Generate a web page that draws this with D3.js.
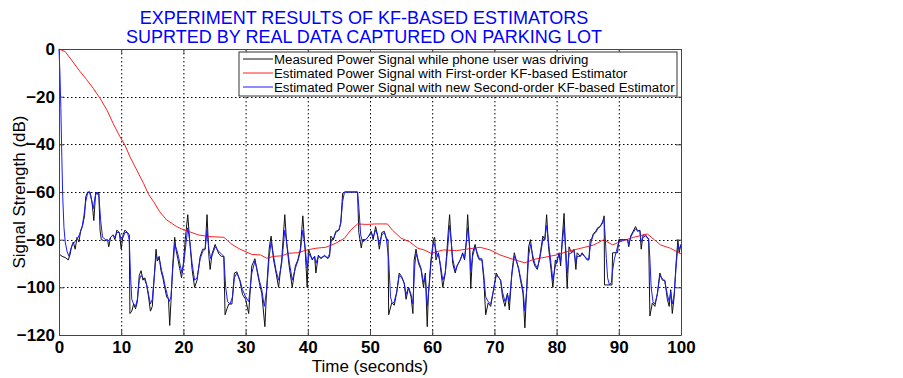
<!DOCTYPE html>
<html>
<head>
<meta charset="utf-8">
<script src="https://cdn.jsdelivr.net/npm/d3@7"></script>
<style>
  body { margin: 0; background: #fff; }
  text { font-family: "Liberation Sans", Arial, sans-serif; }
</style>
</head>
<body>
<div id="chart"></div>
<script>
const titleLines = ['EXPERIMENT RESULTS OF KF-BASED ESTIMATORS', 'SUPRTED BY REAL DATA CAPTURED ON PARKING LOT']
const xTicks = [0, 10, 20, 30, 40, 50, 60, 70, 80, 90, 100]
const yTicks = [0, -20, -40, -60, -80, -100, -120]
const legendLabels = [
  'Measured Power Signal while phone user was driving',
  'Estimated Power Signal with First-order KF-based Estimator',
  'Estimated Power Signal with new Second-order KF-based Estimator'
]

// measured signal [time s, dB]
const measured = [
  [0,-86],[0.5,-87],[1,-87.5],[1.5,-88.5],[1.8,-86],[2,-83],[2.3,-81],[2.6,-84],[2.9,-79],[3.2,-81],[3.5,-76],[3.8,-74],
  [4.1,-70],[4.3,-62],[4.6,-60],[5.0,-60],[5.3,-64],[5.6,-72],[5.9,-60],[6.2,-61],[6.4,-60],[6.6,-76],[6.8,-80],[7.3,-80.5],
  [7.8,-80],[8.0,-83],[8.3,-79],[8.7,-78],[9.0,-80],[9.3,-76],[9.7,-77],[10.0,-84],[10.3,-78],[10.6,-76],[11.0,-77],[11.3,-78],
  [11.4,-111],[11.7,-110],[12.0,-107],[12.3,-109],[12.6,-106],[12.9,-95],[13.2,-93],[13.5,-97],[13.8,-96],[14.1,-99],[14.4,-104],
  [14.7,-110],[15.0,-108],[15.3,-96],[15.6,-84],[15.8,-89],[16.1,-87],[16.4,-93],[16.7,-96],[17.0,-100],[17.3,-104],[17.6,-105],
  [17.8,-116],[18.0,-106],[18.3,-90],[18.6,-79],[18.8,-84],[19.1,-88],[19.4,-92],[19.7,-96],[20.0,-90],
  [20.3,-80],[20.7,-69.5],[21.0,-80],[21.4,-92.5],[21.8,-100],[22.2,-97],[22.7,-87],[23.1,-84],[23.5,-84],[23.8,-69.5],[24.1,-87],
  [24.3,-92.5],[24.6,-86],[25.1,-82],[25.4,-84],[25.7,-86],[26.1,-87],[26.5,-87],[26.7,-111.5],[27.0,-109],[27.3,-107],[27.8,-107],
  [28.2,-94],[28.6,-93.5],[29.1,-97.5],[29.5,-103],[30.0,-105],[30.5,-111],[31.0,-91],[31.5,-88],[31.8,-92.5],[32.2,-98],
  [32.6,-102.5],[33.1,-116.5],[33.4,-100],[33.8,-83.5],[34.1,-78.5],[34.5,-88.5],[34.9,-94],[35.3,-100],[35.8,-88.5],[36.3,-69.5],
  [36.6,-81.5],[37.0,-91],[37.5,-100],[38.0,-91],[38.4,-88.5],[38.8,-84],[39.2,-70],[39.6,-85.5],[39.9,-100],[40.1,-84],
  [40.4,-86],[40.7,-88.5],[41.1,-87],[41.3,-94],[41.7,-86.5],[42.1,-88],[42.7,-86.5],[43.2,-88],[43.5,-87],[43.7,-78.5],[44.1,-80],
  [44.5,-76.5],[45.0,-76],[45.3,-73],[45.6,-60.5],[46.0,-60],[47.0,-60],[48.0,-60],[48.2,-77],[48.6,-83.5],[48.8,-80],[49.3,-80],
  [49.8,-78.5],[50.2,-76.5],[50.5,-80],[50.9,-74.5],[51.2,-78],[51.5,-84],[51.9,-77],[52.3,-76.5],[52.6,-79.5],[52.9,-80],
  [53.0,-111.5],[53.5,-106.5],[53.9,-107.5],[54.3,-102],[54.7,-94],[55.1,-95.5],[55.5,-98.5],[55.8,-105],[56.2,-100],[56.6,-104],
  [56.9,-111],[57.1,-88.5],[57.4,-84],[57.8,-90],[58.2,-92.5],[58.6,-100],[58.9,-94],[59.2,-116.5],[59.4,-102.5],[59.8,-88.5],[60.2,-80],
  [60.4,-79],[60.6,-88.5],[61.0,-85.5],[61.3,-91],[61.7,-100],[62.1,-94],[62.3,-87],[62.6,-76],[62.8,-69.5],[63.0,-78.5],[63.3,-90],
  [63.7,-94],[64.0,-91],[64.5,-88.5],[64.9,-85.5],[65.2,-88.5],[65.5,-80],[65.7,-69.5],[66.0,-83],[66.2,-100.5],[66.5,-85.5],
  [66.9,-82],[67.3,-87],[67.6,-88.5],[68.0,-88.5],[68.3,-97],[68.6,-111.5],[69.0,-106.5],[69.4,-108],[69.8,-102],[70.3,-94],
  [70.6,-95.5],[71.0,-97],[71.3,-104],[71.7,-108],[72.1,-102.5],[72.4,-109.5],[72.8,-94],[73.2,-85.5],[73.5,-88.5],[73.9,-92.5],
  [74.2,-97],[74.6,-102.5],[74.9,-117],[75.2,-100],[75.5,-83],[75.8,-80],[76.2,-88.5],[76.5,-91],[76.9,-92.5],[77.3,-87],
  [77.8,-78.5],[78.1,-80],[78.4,-69.5],[78.7,-83],[79.1,-92.5],[79.4,-100],[79.8,-88.5],
  [80.0,-90],[80.4,-85.5],[80.65,-91],[80.9,-80],[81.2,-69],[81.5,-88.5],[81.7,-100.5],[82.0,-83],[82.4,-85.5],[82.8,-84],
  [83.1,-92.5],[83.3,-85.5],[83.8,-87],[84.1,-85.5],[84.5,-87],[84.9,-88.5],[85.2,-88.5],[85.4,-80],[85.6,-80],[85.9,-77.5],
  [86.3,-76.5],[86.6,-75],[87.0,-74.5],[87.4,-72.5],[87.65,-70],[87.7,-99],[88.9,-99],[89.0,-85.5],[89.8,-85.5],[90.0,-80],
  [90.8,-80],[91.4,-80],[91.6,-83],[91.9,-78.5],[92.3,-76.5],[92.7,-74.5],[93.0,-76.5],[93.4,-76],[93.6,-84],[93.9,-78],[94.3,-78],
  [94.8,-80],[95.0,-112],[95.4,-106.5],[95.8,-108],[96.2,-102.5],[96.6,-94],[97.0,-97],[97.4,-97],[97.8,-105],[98.1,-108],
  [98.35,-101],[98.6,-111],[98.9,-104],[99.2,-90],[99.5,-80],[99.7,-85.5],[100,-82]
]

// first-order KF estimate
const kf1 = [
  [0,0],[1,-1.1],[2,-4.6],[3.4,-9.5],[4.4,-12.7],[5.5,-16.5],[6.6,-20.7],[7.7,-25.6],[8.7,-31.2],[9.8,-36.8],[10.6,-40.3],
  [11.4,-45.2],[12.5,-50.8],[13.6,-56.4],[14.4,-61],[15.2,-64],[16.2,-68.3],[17.3,-71.7],[18.1,-73.1],[18.9,-74.5],[19.7,-75.5],
  [20.8,-76.5],[22.4,-78],[24.1,-78.7],[26.5,-79],[27.8,-82],[29.1,-84],[31.0,-86.2],[32.4,-86.4],[33.4,-87.8],[34.5,-87],
  [35.8,-86.8],[36.9,-85.7],[38.3,-85.5],[39.9,-84.3],[41.3,-83.6],[42.9,-83.2],[44.5,-81.5],[45.9,-79.4],[46.9,-76],[48,-73.4],
  [49.4,-73.6],[51,-73.4],[52.8,-73.4],[53.6,-76],[55,-79.4],[56.3,-80.8],[57.7,-83.6],[58.7,-84.3],[59.8,-85.7],[61.8,-84.3],
  [63.9,-84.6],[65.5,-84],[67.7,-83.2],[69.3,-84.3],[70.9,-86.4],[73.05,-88.3],[74.9,-89.7],[76.3,-88.3],[78.1,-87.4],[80,-86.4],
  [81.7,-85],[83.9,-83.6],[86,-82.2],[87.6,-80],[89,-82.2],[90.3,-80.8],[92.4,-79],[94.6,-77.6],[95.7,-80],[96.7,-82.2],
  [98.3,-83.6],[100,-86]
]

// new second-order KF estimate
const kf2 = [
  [0,0],[0.15,-10],[0.3,-25],[0.45,-45],[0.6,-62],[0.8,-75],[1.0,-81],[1.3,-85],[1.6,-87],[1.9,-84],[2.2,-82],[2.5,-81],[2.8,-80],
  [3.1,-79],[3.4,-77],[3.7,-75],[4.0,-70],[4.3,-64],[4.6,-60.5],[4.9,-60],[5.2,-63],[5.5,-67],[5.8,-62],[6.1,-60],[6.4,-61],
  [6.7,-72],[7.0,-79],[7.5,-80],[8.0,-80.5],[8.3,-79],[8.7,-78],[9.0,-79],[9.3,-77],[9.7,-77],[10.0,-80],[10.3,-79],[10.6,-77],
  [11.0,-77],[11.3,-80],[11.5,-95],[11.7,-105],[12.0,-107],[12.3,-108],[12.6,-105],[12.9,-97],[13.2,-95],[13.5,-96],[13.8,-97],
  [14.1,-99],[14.4,-103],[14.7,-107],[15.0,-105],[15.3,-96],[15.6,-87],[15.9,-88],[16.2,-89],[16.5,-93],[16.8,-96],[17.1,-100],
  [17.4,-103],[17.7,-106],[18.0,-104],[18.3,-92],[18.6,-82],[18.9,-84],[19.2,-87],[19.5,-91],[19.8,-94],[20.1,-89],[20.4,-82],
  [20.7,-75],[21.0,-80],[21.4,-90],[21.8,-97],[22.2,-96],[22.7,-88],[23.1,-85],[23.5,-84],[23.8,-76],[24.1,-84],[24.4,-88],
  [24.7,-86],[25.1,-83],[25.4,-84],[25.7,-85],[26.1,-86],[26.5,-87],[26.8,-100],[27.1,-106],[27.5,-107],[27.9,-104],[28.2,-96],
  [28.6,-94],[29.1,-97],[29.5,-101],[30.0,-104],[30.5,-106],[31.0,-94],[31.5,-89],[31.8,-92],[32.2,-97],[32.6,-101],[33.0,-108],
  [33.4,-101],[33.8,-87],[34.1,-81],[34.5,-87],[34.9,-93],[35.3,-97],[35.8,-90],[36.3,-76],[36.6,-81],[37.0,-89],[37.5,-97],
  [38.0,-92],[38.4,-89],[38.8,-85],[39.2,-76],[39.6,-84],[39.9,-92],[40.2,-86],[40.7,-88],[41.1,-87],[41.3,-90],[41.7,-87],
  [42.1,-87.5],[42.7,-87],[43.2,-87.5],[43.5,-86],[43.8,-80],[44.1,-80],[44.5,-77],[45.0,-76],[45.3,-73],[45.6,-64],[45.9,-60],
  [48.0,-60],[48.2,-66],[48.5,-78],[48.8,-81],[49.3,-80],[49.8,-78.5],[50.2,-77],[50.5,-79],[50.9,-76],[51.2,-78],[51.5,-82],
  [51.9,-78],[52.3,-77],[52.6,-79],[53.0,-88],[53.3,-104],[53.6,-107],[53.9,-106],[54.3,-102],[54.7,-95],[55.1,-96],[55.5,-98],
  [55.8,-103],[56.2,-100],[56.6,-103],[56.9,-107],[57.2,-91],[57.4,-86],[57.8,-89],[58.2,-92],[58.6,-98],[58.9,-95],[59.2,-108],
  [59.5,-100],[59.8,-90],[60.2,-81],[60.5,-83],[60.8,-87],[61.0,-86],[61.3,-90],[61.7,-97],[62.1,-94],[62.4,-86],[62.8,-74],
  [63.0,-79],[63.3,-88],[63.7,-93],[64.0,-91],[64.5,-88.5],[64.9,-86],[65.2,-88],[65.5,-81],[65.7,-75],[66.0,-82],[66.2,-93],
  [66.5,-87],[66.9,-83],[67.3,-86],[67.6,-88],[68.0,-88],[68.3,-95],[68.6,-104],[69.0,-106],[69.4,-107],[69.8,-102],[70.3,-95],
  [70.6,-95.5],[71.0,-97],[71.3,-102],[71.7,-106],[72.1,-103],[72.4,-106],[72.8,-95],[73.2,-87],[73.5,-88.5],[73.9,-92],
  [74.2,-96],[74.6,-101],[74.9,-110],[75.2,-101],[75.5,-87],[75.8,-82],[76.2,-87],[76.5,-90],[76.9,-92],[77.3,-88],[77.8,-80],
  [78.1,-80],[78.4,-74],[78.7,-81],[79.1,-90],[79.4,-97],[79.8,-91],[80.0,-89],[80.4,-86],[80.65,-89],[80.9,-82],[81.2,-74],
  [81.5,-85],[81.7,-94],[82.0,-86],[82.4,-85.5],[82.8,-84.5],[83.1,-90],[83.3,-87],[83.8,-87],[84.1,-86],[84.5,-87],[84.9,-88],
  [85.2,-88],[85.4,-83],[85.6,-80.5],[85.9,-78],[86.3,-77],[86.6,-75.5],[87.0,-74.5],[87.4,-73],[87.6,-71],[87.8,-78],[88.0,-88],
  [88.2,-96],[88.5,-99],[88.8,-98],[89.0,-93],[89.3,-88],[89.6,-85],[90.0,-81],[90.8,-80],[91.4,-80],[91.6,-82],[91.9,-79],
  [92.3,-77],[92.7,-75.5],[93.0,-76],[93.4,-76.5],[93.6,-81],[93.9,-79],[94.3,-78.5],[94.8,-79.5],[95.0,-88],[95.2,-100],
  [95.5,-106],[95.8,-107],[96.2,-103],[96.6,-95],[97.0,-96.5],[97.4,-97.5],[97.8,-103],[98.1,-106],[98.35,-102],[98.6,-107],
  [98.9,-103],[99.2,-92],[99.5,-82],[99.7,-84],[100,-82]
]

const width = 903, height = 378
const margin = { top: 49, right: 222, bottom: 43, left: 59 }
const w = width - margin.left - margin.right
const h = height - margin.top - margin.bottom

const svg = d3.select('#chart').append('svg')
  .attr('width', width)
  .attr('height', height)

svg.append('rect').attr('width', width).attr('height', height).attr('fill', '#fff')

const g = svg.append('g').attr('transform', `translate(${margin.left},${margin.top})`)

const x = d3.scaleLinear().domain([0, 100]).range([0, w])
const y = d3.scaleLinear().domain([-120, 0]).range([h, 0])

// dotted grid
g.append('g').selectAll('line')
  .data(xTicks.slice(1, -1)).enter().append('line')
  .attr('x1', d => x(d) + 0.5).attr('x2', d => x(d) + 0.5)
  .attr('y1', 0).attr('y2', h)
  .attr('stroke', '#000').attr('stroke-width', 1).attr('stroke-dasharray', '1.5,2.5')
g.append('g').selectAll('line')
  .data(yTicks.slice(1, -1)).enter().append('line')
  .attr('y1', d => Math.round(y(d)) + 0.5).attr('y2', d => Math.round(y(d)) + 0.5)
  .attr('x1', 0).attr('x2', w)
  .attr('stroke', '#000').attr('stroke-width', 1).attr('stroke-dasharray', '1.5,2.5')

// lines
const line = d3.line().x(d => x(d[0])).y(d => y(d[1]))
g.append('path').datum(measured).attr('d', line)
  .attr('fill', 'none').attr('stroke', '#111').attr('stroke-width', 1)
g.append('path').datum(kf1).attr('d', line)
  .attr('fill', 'none').attr('stroke', '#ff2020').attr('stroke-width', 1)
g.append('path').datum(kf2).attr('d', line)
  .attr('fill', 'none').attr('stroke', '#1a1aff').attr('stroke-width', 1)

// axes: ticks pointing inward, box on all sides
const styleAxis = sel => {
  sel.select('.domain').attr('stroke', '#444')
  sel.selectAll('.tick line').attr('stroke', '#444')
  sel.selectAll('.tick text').attr('fill', '#000')
    .style('font-family', '"Liberation Sans", Arial, sans-serif')
    .style('font-size', '17px').style('font-weight', 'bold')
}
g.append('g').attr('transform', `translate(0,${h})`)
  .call(d3.axisBottom(x).tickValues(xTicks).tickSizeInner(-5).tickSizeOuter(0).tickPadding(6))
  .call(styleAxis)
g.append('g')
  .call(d3.axisLeft(y).tickValues(yTicks).tickSizeInner(-5).tickSizeOuter(0).tickPadding(4).tickFormat(d3.format('d')))
  .call(styleAxis)
g.append('g')
  .call(d3.axisTop(x).tickValues(xTicks).tickSizeInner(-5).tickSizeOuter(0).tickFormat(''))
  .call(styleAxis)
g.append('g').attr('transform', `translate(${w},0)`)
  .call(d3.axisRight(y).tickValues(yTicks).tickSizeInner(-5).tickSizeOuter(0).tickFormat(''))
  .call(styleAxis)

// legend
const legend = g.append('g').attr('transform', 'translate(180,3)')
legend.append('rect')
  .attr('x', 0).attr('y', 0).attr('width', 438).attr('height', 44)
  .attr('fill', '#fff').attr('stroke', '#333').attr('stroke-width', 1)
const legendColors = ['#111', '#ff2020', '#1a1aff']
const legendTexts = legendLabels.map((label, i) => {
  const ly = 7 + i * 14
  legend.append('line')
    .attr('x1', 4).attr('x2', 34).attr('y1', ly).attr('y2', ly)
    .attr('stroke', legendColors[i]).attr('stroke-width', 1)
  return legend.append('text')
    .attr('x', 35).attr('y', ly + 5)
    .attr('font-size', 14).attr('fill', '#000')
    .text(label)
})
// fit the longest entry inside the box
const longest = d3.max(legendTexts, t => t.node().getComputedTextLength())
const legendFont = 14 * 401 / longest
legendTexts.forEach(t => t.attr('font-size', legendFont))

// titles
svg.append('g').selectAll('text')
  .data(titleLines).enter().append('text')
  .attr('x', 364).attr('y', (d, i) => 24 + i * 19)
  .attr('text-anchor', 'middle')
  .attr('font-size', 18).attr('fill', '#0000ff')
  .text(d => d)

svg.append('text')
  .attr('x', margin.left + w / 2).attr('y', 372)
  .attr('text-anchor', 'middle').attr('font-size', 17)
  .text('Time (seconds)')

svg.append('text')
  .attr('transform', `translate(25,${margin.top + h / 2}) rotate(-90)`)
  .attr('text-anchor', 'middle').attr('font-size', 17)
  .text('Signal Strength (dB)')
</script>
</body>
</html>
